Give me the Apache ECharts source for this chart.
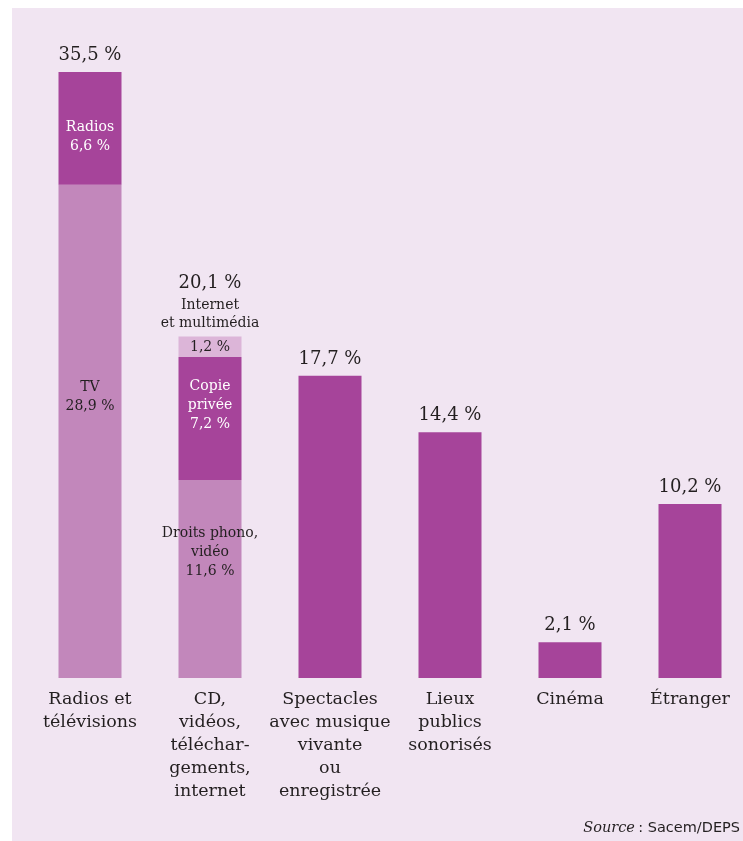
<!DOCTYPE html>
<html><head><meta charset="utf-8">
<script src="https://cdn.jsdelivr.net/npm/echarts@6/dist/echarts.min.js"></script>
<style>
html,body{margin:0;padding:0;background:#fff;width:743px;height:841px;overflow:hidden;position:relative}
#panel{position:absolute;left:12px;top:8px;width:731px;height:833px;background:#f1e5f2}
#c{position:absolute;left:0;top:0;width:780px;height:841px}
</style></head>
<body><div id="panel"></div><div id="c"></div>
<script>
const categories = ['Radios et\ntélévisions', 'CD,\nvidéos,\ntéléchar-\ngements,\ninternet', 'Spectacles\navec musique\nvivante\nou\nenregistrée', 'Lieux\npublics\nsonorisés', 'Cinéma', 'Étranger'];
const baseValues = [28.9, 11.6, 17.7, 14.4, 2.1, 10.2];
const baseNames = ['TV', 'Droits phono,\nvidéo', '', '', '', ''];
const midValues = [6.6, 7.2, null, null, null, null];
const midNames = ['Radios', 'Copie\nprivée', '', '', '', ''];
const topValues = [null, 1.2, null, null, null, null];
const topNames = ['', 'Internet\net multimédia', '', '', '', ''];
const totals = [35.5, 20.1, 17.7, 14.4, 2.1, 10.2];

const DARK = '#a6449a', LIGHT = '#c287bb', LIGHTEST = '#dcb5d8', TXT = '#231f20';
const FONT = 'DejaVu Serif';
const fmt = v => v.toFixed(1).replace('.', ',') + ' %';

const chart = echarts.init(document.getElementById('c'), null, {renderer: 'canvas'});
chart.setOption({
  animation: false,
  grid: {left: 30, width: 720, top: 72, height: 606},
  xAxis: {
    type: 'category', data: categories,
    axisLine: {show: false}, axisTick: {show: false},
    axisLabel: {interval: 0, color: TXT, fontFamily: FONT, fontSize: 17.5, lineHeight: 23, margin: 10}
  },
  yAxis: {type: 'value', min: 0, max: 35.5, show: false, splitLine: {show: false}},
  series: [
    {
      type: 'bar', stack: 's', barWidth: 63,
      data: baseValues.map((v, i) => ({
        value: v,
        itemStyle: {color: i < 2 ? LIGHT : DARK},
        label: i === 0 ? {show: true, position: 'inside', offset: [0, -34], formatter: () => baseNames[0] + '\n' + fmt(v), color: TXT, fontSize: 14, lineHeight: 19, fontFamily: FONT}
             : i === 1 ? {show: true, position: 'inside', offset: [0, -27], formatter: () => baseNames[1] + '\n' + fmt(v), color: TXT, fontSize: 14, lineHeight: 19, fontFamily: FONT}
             : {show: false}
      }))
    },
    {
      type: 'bar', stack: 's', barWidth: 63,
      itemStyle: {color: DARK},
      data: midValues.map((v, i) => ({
        value: v,
        label: {show: v != null, position: 'inside', offset: i === 1 ? [0, -13] : [0, 9],
          formatter: () => midNames[i] + '\n' + fmt(v), color: '#ffffff', fontSize: 14, lineHeight: 19, fontFamily: FONT}
      }))
    },
    {
      type: 'bar', stack: 's', barWidth: 63,
      itemStyle: {color: LIGHTEST},
      data: topValues.map((v, i) => ({
        value: v,
        label: {show: v != null, position: 'inside', offset: [0, 1], formatter: () => fmt(v), color: TXT, fontSize: 14, fontFamily: FONT}
      }))
    },
    {
      type: 'bar', stack: 's', barWidth: 63,
      itemStyle: {color: 'transparent'},
      data: totals.map((v, i) => ({
        value: 0,
        label: {
          show: true, position: 'top', distance: 4,
          formatter: () => topNames[i] ? '{t|' + fmt(v) + '}\n{s|Internet}\n{s|et multimédia}' : '{t|' + fmt(v) + '}',
          rich: {
            t: {fontSize: 18, color: TXT, fontFamily: FONT, lineHeight: 26},
            s: {fontSize: 14, color: TXT, fontFamily: FONT, lineHeight: 18}
          }
        }
      }))
    }
  ],
  graphic: [{
    type: 'text', right: 40, top: 821,
    style: {
      text: '{i|Source} {n|: Sacem/DEPS}',
      rich: {
        i: {fontFamily: FONT, fontStyle: 'italic', fontSize: 14.5, fill: TXT},
        n: {fontFamily: 'DejaVu Sans', fontSize: 14.5, fill: TXT}
      }
    }
  }]
});
</script></body></html>
